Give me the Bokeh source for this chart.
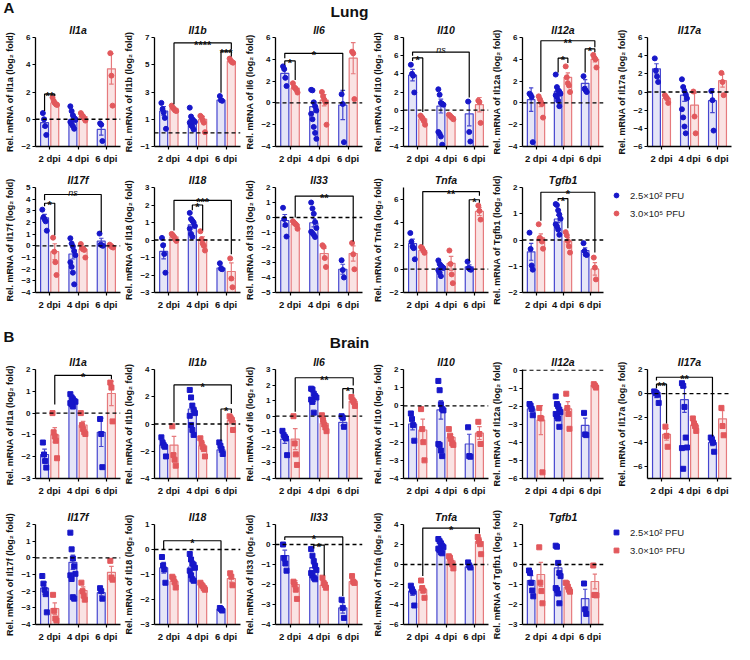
import numpy as np
from bokeh.plotting import figure
from bokeh.layouts import column, row
from bokeh.models import Range1d, FixedTicker, Span, Legend, LegendItem, Label
from bokeh.embed import file_html
from bokeh.resources import INLINE

FONT = "Liberation Sans"
DPI_LABELS = ["2 dpi", "4 dpi", "6 dpi"]
LEGEND_LABELS = ["2.5×10² PFU", "3.0×10⁵ PFU"]
SECTIONS = [("A", "Lung"), ("B", "Brain")]

# ---------------- LUNG ----------------
L_IL1A_BLUE = [[0.45, 0.0, -0.5, -1.15], [0.95, 0.6, 0.3, 0.1, -0.05, -0.2, -0.35, -0.5, -0.7, 0.0], [-0.3, -0.4, -1.6]]
L_IL1A_RED = [[1.6, 1.35, 1.2, 1.1, 1.05], [0.45, 0.3, 0.2, 0.05, -0.1], [4.85, 3.2, 1.0]]
L_IL1A_BARS = ([-0.25, 0.0, -0.75], [1.2, 0.2, 3.7])
L_IL1A_TICKS = [-2, 0, 2, 4, 6]

L_IL1B_BLUE = [[2.2, 1.75, 1.5, 1.1, 0.3], [1.85, 1.2, 1.0, 0.9, 0.8, 0.75, 0.55, 0.45, 0.25], [2.7, 2.4, 2.35]]
L_IL1B_RED = [[2.0, 1.85, 1.75, 1.65, 1.6], [1.25, 1.15, 0.95, 0.75, 0.05], [5.45, 5.3, 5.2, 5.15]]
L_IL1B_BARS = ([1.6, 0.95, 2.4], [1.8, 1.0, 5.25])
L_IL1B_TICKS = [-1, 1, 3, 5, 7]

L_IL6_BLUE = [[3.35, 3.1, 2.3, 1.55], [1.2, 1.15, 0.05, -0.3, -0.7, -1.0, -1.5, -2.2, -2.75, -3.3], [0.8, -0.1, -3.6]]
L_IL6_RED = [[1.8, 1.45, 1.35, 1.2, 0.95], [1.0, 0.6, 0.3, 0.05, -2.0], [4.7, 4.55, 0.35]]
L_IL6_BARS = ([2.7, -0.35, -0.2], [1.35, 0.25, 4.1])
L_IL6_TICKS = [-4, -2, 0, 2, 4, 6]

L_IL10_BLUE = [[5.0, 4.0, 3.8, 1.95], [2.3, 1.7, 0.8, 0.7, 0.6, -2.4, -2.6, -2.9, -3.8], [0.95, -2.4, -3.45]]
L_IL10_RED = [[-0.6, -0.75, -0.95, -1.2, -1.6], [-0.5, -0.6, -0.75, -0.85, -1.0], [1.05, 0.9, -1.4]]
L_IL10_BARS = ([3.85, 0.45, -0.4], [-0.95, -0.7, 0.6])
L_IL10_TICKS = [-4, -2, 0, 2, 4, 6, 8]

L_IL12A_BLUE = [[0.85, 0.75, 0.55, -3.6], [2.6, 1.45, 1.15, 1.05, 0.85, 0.7, 0.55, 0.2, -0.3], [2.45, 1.3, 1.15, 1.0]]
L_IL12A_RED = [[0.6, 0.35, 0.1, -0.1, -1.35], [3.35, 2.35, 1.8, 1.6, 1.0], [4.4, 4.15, 4.0, 3.25]]
L_IL12A_BARS = ([0.3, 1.05, 1.8], [0.0, 2.35, 4.0])
L_IL12A_TICKS = [-4, -2, 0, 2, 4, 6]

L_IL17A_BLUE = [[3.7, 2.35, 1.7, 1.1], [1.4, 0.55, 0.1, -0.25, -0.7, -1.9, -2.8, -3.8, -4.55], [0.1, -0.9, -4.25]]
L_IL17A_RED = [[-0.35, -0.55, -0.7, -1.2], [0.05, -2.7, -4.55], [2.1, 1.1, -0.35]]
L_IL17A_BARS = ([2.55, -0.35, -0.95], [-0.7, -1.45, 1.25])
L_IL17A_TICKS = [-6, -4, -2, 0, 2, 4, 6]

L_IL17F_BLUE = [[3.1, 2.45, 2.3, 2.1, 1.3], [0.65, 0.2, -0.05, -0.45, -0.8, -1.4, -1.8, -2.3, -3.3], [1.05, 0.1, 0.05, 0.0]]
L_IL17F_RED = [[0.7, -0.5, -1.4, -2.5], [0.15, -0.2, -0.25, -0.35, -1.0], [0.1, 0.0, -0.1, -0.15]]
L_IL17F_BARS = ([2.4, -0.7, 0.4], [-0.5, -0.3, -0.1])
L_IL17F_TICKS = [-4, -3, -2, -1, 0, 1, 2, 3, 4, 5]

L_IL18_BLUE = [[0.12, -0.3, -0.8, -1.87], [1.55, 1.2, 1.1, 1.0, 0.8, 0.65, 0.35, 0.18], [-1.33, -1.64, -1.67]]
L_IL18_RED = [[0.35, 0.27, 0.18, 0.05, -0.05], [0.5, 0.05, -0.2, -0.33, -0.6], [-1.05, -2.2, -2.7]]
L_IL18_BARS = ([-0.65, 0.87, -1.6], [0.18, 0.0, -1.8])
L_IL18_TICKS = [-3, -2, -1, 0, 1, 2, 3]

L_IL33_BLUE = [[0.65, -0.1, -0.5, -1.27], [1.0, 0.6, 0.25, -0.3, -0.7, -0.95, -1.05, -1.15, -1.3], [-2.85, -3.5, -4.0]]
L_IL33_RED = [[-0.25, -0.35, -0.42, -0.5, -0.75], [-1.85, -1.95, -2.7, -3.3], [-1.7, -2.45, -3.45]]
L_IL33_BARS = ([-0.2, -0.35, -3.45], [-0.45, -2.4, -2.4])
L_IL33_TICKS = [-5, -4, -3, -2, -1, 0, 1, 2]

L_TNFA_BLUE = [[3.1, 2.35, 1.95, 1.8, 0.85], [0.75, 0.45, 0.3, 0.2, 0.1, -0.1, -0.3, -0.6], [0.65, 0.1, 0.0, -0.05]]
L_TNFA_RED = [[1.9, 1.8, 1.6, 1.4], [1.6, 0.45, -0.45, -1.2], [5.45, 5.0, 4.25]]
L_TNFA_BARS = ([2.2, 0.1, 0.2], [1.6, 0.5, 4.95])
L_TNFA_TICKS = [-2, 0, 2, 4, 6]

L_TGFB1_BLUE = [[0.28, -0.34, -0.97, -1.13], [1.37, 1.33, 1.13, 0.97, 0.81, 0.6, 0.52, 0.4, 0.2], [-0.12, -0.42, -0.55, -0.57]]
L_TGFB1_RED = [[0.6, 0.08, 0.04, -0.06, -0.33], [0.3, 0.18, -0.04, -0.24, -0.48], [-0.67, -1.05, -1.5]]
L_TGFB1_BARS = ([-0.45, 0.8, -0.4], [0.08, -0.04, -1.1])
L_TGFB1_TICKS = [-2, -1, 0, 1, 2]

# ---------------- BRAIN ----------------
B_IL1A_BLUE = [[-1.35, -1.9, -2.2, -2.5], [0.87, 0.72, 0.64, 0.56, 0.52, 0.46, 0.4, 0.3], [-0.27, -0.96, -2.48]]
B_IL1A_RED = [[0.0, -0.88, -1.07, -1.27, -2.07], [0.0, -0.55, -0.73, -0.88, -0.96], [1.4, 1.17, -0.38]]
B_IL1A_BARS = ([-1.9, 0.5, -0.88], [-1.0, -0.55, 0.9])
B_IL1A_TICKS = [-3, -2, -1, 0, 1, 2]

B_IL1B_BLUE = [[-0.98, -1.35, -1.55, -1.67, -2.38], [2.5, 1.95, 1.35, 1.05, 0.8, 0.6, -0.07, -0.44, -0.8], [-1.35, -1.6, -1.84, -2.2]]
B_IL1B_RED = [[-0.17, -2.28, -2.62, -3.06], [-1.05, -1.4, -1.67, -1.84, -2.38], [0.56, 0.42, 0.3, -0.44]]
B_IL1B_BARS = ([-1.55, 1.1, -1.9], [-1.55, -1.6, 0.25])
B_IL1B_TICKS = [-4, -2, 0, 2, 4]

B_IL6_BLUE = [[-0.94, -1.2, -1.32, -1.43, -2.5], [1.77, 1.72, 1.45, 1.3, 1.2, 1.07, 0.92, 0.23], [0.0, -0.1, -0.68]]
B_IL6_RED = [[0.0, -1.75, -2.45, -3.13], [0.06, -0.25, -0.53, -0.72, -0.96], [1.23, 1.02, 0.92, 0.66]]
B_IL6_BARS = ([-1.47, 1.13, -0.4], [-1.47, -0.47, 0.96])
B_IL6_TICKS = [-4, -3, -2, -1, 0, 1, 2, 3]

B_IL10_BLUE = [[-0.42, -0.73, -1.06, -1.92], [1.37, 0.86, 0.09, -0.18, -0.25, -2.1, -2.15, -2.46, -2.77], [-1.18, -2.77, -2.8]]
B_IL10_RED = [[-0.18, -1.28, -2.0, -3.0], [-1.28, -1.64, -1.82, -2.06, -2.15], [-0.88, -1.55, -2.1]]
B_IL10_BARS = ([-1.0, -0.22, -2.1], [-1.33, -1.73, -1.5])
B_IL10_TICKS = [-4, -3, -2, -1, 0, 1, 2]

B_IL12A_BLUE = [[-1.88, -1.97, -2.15, -2.5], [-1.46, -1.88, -2.0, -2.19, -2.33, -2.43, -2.55, -2.68, -3.14], [-2.37, -3.56, -3.6]]
B_IL12A_RED = [[-2.1, -2.65, -2.68, -5.66], [-1.31, -2.1, -2.43, -3.25], [-0.78, -0.86, -0.97]]
B_IL12A_BARS = ([-2.15, -2.37, -3.06], [-2.77, -2.15, -0.85])
B_IL12A_TICKS = [-6, -5, -4, -3, -2, -1, 0]

B_IL17A_BLUE = [[0.19, 0.11, 0.05, -0.08, -0.76], [0.87, 0.65, -1.09, -3.62, -4.44, -4.49, -6.2], [-3.62, -3.76, -4.03, -4.79]]
B_IL17A_RED = [[-2.72, -3.48, -4.38], [-2.04, -2.45, -2.67, -3.07], [-1.17, -2.67, -3.43]]
B_IL17A_BARS = ([-0.15, -0.49, -4.03], [-3.35, -2.6, -2.07])
B_IL17A_TICKS = [-6, -4, -2, 0, 2]

B_IL17F_BLUE = [[-1.09, -1.55, -1.91, -2.18, -3.27], [1.51, 0.51, -0.04, -0.51, -0.96, -1.05, -1.27, -2.36, -2.45], [-1.82, -2.0, -2.45]]
B_IL17F_RED = [[-2.22, -3.18, -3.64, -3.76], [-1.49, -2.0, -2.27, -2.51], [-0.18, -1.18, -1.31]]
B_IL17F_BARS = ([-1.82, -0.27, -2.09], [-3.05, -1.96, -0.87])
B_IL17F_TICKS = [-4, -3, -2, -1, 0, 1, 2]

B_IL18_BLUE = [[-0.3, -0.64, -0.8, -1.33], [-0.18, -0.4, -0.56, -0.61, -0.73, -0.85, -1.03, -1.19, -1.25], [-2.34, -2.38, -2.44]]
B_IL18_RED = [[-1.09, -1.16, -1.31, -1.52], [-1.33, -1.41, -1.47, -1.55, -1.61], [-0.95, -1.09, -1.43]]
B_IL18_BARS = ([-0.73, -0.7, -2.38], [-1.28, -1.45, -1.16])
B_IL18_TICKS = [-3, -2, -1, 0, 1]

B_IL33_BLUE = [[0.0, -0.68, -0.95, -1.31], [-0.23, -0.56, -0.83, -1.06, -1.28, -1.43, -1.55, -1.66, -1.74], [-2.76, -3.17, -3.67]]
B_IL33_RED = [[-1.86, -2.0, -2.26, -2.72], [-1.66, -1.92, -2.0, -2.16], [-1.58, -1.86, -1.92]]
B_IL33_BARS = ([-0.56, -1.16, -3.17], [-2.0, -2.04, -1.86])
B_IL33_TICKS = [-4, -3, -2, -1, 0, 1]

B_TNFA_BLUE = [[-2.12, -2.52, -2.73, -4.1], [2.55, 2.33, 2.12, 1.88, 1.73, 1.58, 1.42, 1.21, 1.12], [0.21, -0.09, -0.3]]
B_TNFA_RED = [[-1.6, -2.36, -2.6, -3.33], [0.82, 0.67, 0.21, 0.0, -0.39], [2.75, 2.33, 2.03, 1.03]]
B_TNFA_BARS = ([-2.67, 1.82, -0.24], [-2.52, 0.36, 2.3])
B_TNFA_TICKS = [-6, -4, -2, 0, 2, 4]

B_TGFB1_BLUE = [[-0.3, -0.42, -0.91, -1.3, -1.59], [0.94, 0.89, 0.08, -0.42, -0.58, -1.18, -1.26, -1.45, -1.94], [-0.95, -2.24, -2.47]]
B_TGFB1_RED = [[0.86, -0.91, -1.33, -1.94], [-0.91, -0.95, -1.11, -1.26, -1.36], [-0.05, -1.52, -1.53, -1.54]]
B_TGFB1_BARS = ([-0.8, -0.17, -1.71], [-0.5, -1.15, -0.85])
B_TGFB1_TICKS = [-3, -2, -1, 0, 1, 2]

# significance brackets: (group1, side1, group2, side2, y_top, y_leg1, y_leg2, label); side -1 = low dose, +1 = high dose
SIG = {
    ("Lung", "Il1a"): [(0, -1, 0, 1, 1.85, 0.6, 1.7, "**")],
    ("Lung", "Il1b"): [(2, -1, 2, 1, 6.0, 2.95, 5.6, "***"), (0, 1, 2, 1, 6.6, 2.1, 6.1, "****")],
    ("Lung", "Il6"): [(0, -1, 0, 1, 3.85, 3.5, 2.1, "*"), (0, -1, 2, -1, 4.55, 4.1, 1.05, "*")],
    ("Lung", "Il10"): [(0, -1, 0, 1, 5.75, 5.4, -0.2, "*"), (0, -1, 2, -1, 6.4, 6.0, 1.4, "ns")],
    ("Lung", "Il12a"): [(1, -1, 1, 1, 4.1, 2.8, 3.65, "*"), (2, -1, 2, 1, 4.95, 2.8, 4.65, "*"), (0, 1, 2, 1, 5.7, 1.0, 5.1, "**")],
    ("Lung", "Il17f"): [(0, -1, 0, 1, 3.65, 3.4, 0.9, "*"), (0, -1, 2, -1, 4.4, 3.9, 1.17, "ns")],
    ("Lung", "Il18"): [(1, -1, 1, 1, 2.0, 1.7, 0.55, "*"), (0, 1, 2, 1, 2.27, 0.55, -0.82, "***")],
    ("Lung", "Il33"): [(0, 1, 2, 1, 1.43, 0.0, -1.6, "**")],
    ("Lung", "Tnfa"): [(2, -1, 2, 1, 5.95, 0.7, 5.7, "*"), (0, 1, 2, 1, 6.65, 2.1, 6.3, "**")],
    ("Lung", "Tgfb1"): [(1, -1, 1, 1, 1.58, 1.5, 0.45, "*"), (0, 1, 2, 1, 1.82, 0.73, -0.48, "*")],
    ("Brain", "Il1a"): [(0, 1, 2, 1, 1.73, 0.4, 1.55, "*")],
    ("Brain", "Il1b"): [(2, -1, 2, 1, 1.1, -1.23, 0.8, "*"), (0, 1, 2, 1, 2.87, 0.12, 1.47, "*")],
    ("Brain", "Il6"): [(2, -1, 2, 1, 1.77, 0.5, 1.45, "*"), (0, 1, 2, 1, 2.47, 0.28, 1.98, "**")],
    ("Brain", "Il17a"): [(0, -1, 0, 1, 0.79, 0.46, -2.45, "**"), (0, -1, 2, -1, 1.36, 1.09, -3.54, "**")],
    ("Brain", "Il18"): [(0, -1, 2, -1, 0.35, 0.02, -2.16, "*")],
    ("Brain", "Il33"): [(0, -1, 2, -1, 0.38, 0.23, -2.57, "*"), (1, -1, 1, 1, -0.03, -0.2, -1.55, "*")],
    ("Brain", "Tnfa"): [(0, 1, 2, 1, 3.64, -1.15, 3.09, "*")],
}

LUNG_PANELS = [
    ("Il1a", "Rel. mRNA of Il1a (log₂ fold)", L_IL1A_BLUE, L_IL1A_RED, L_IL1A_BARS, L_IL1A_TICKS, (-2, 6)),
    ("Il1b", "Rel. mRNA of Il1b (log₂ fold)", L_IL1B_BLUE, L_IL1B_RED, L_IL1B_BARS, L_IL1B_TICKS, (-1, 7)),
    ("Il6", "Rel. mRNA of Il6 (log₂ fold)", L_IL6_BLUE, L_IL6_RED, L_IL6_BARS, L_IL6_TICKS, (-4, 6)),
    ("Il10", "Rel. mRNA of Il10 (log₂ fold)", L_IL10_BLUE, L_IL10_RED, L_IL10_BARS, L_IL10_TICKS, (-4, 8)),
    ("Il12a", "Rel. mRNA of Il12a (log₂ fold)", L_IL12A_BLUE, L_IL12A_RED, L_IL12A_BARS, L_IL12A_TICKS, (-4, 6)),
    ("Il17a", "Rel. mRNA of Il17a (log₂ fold)", L_IL17A_BLUE, L_IL17A_RED, L_IL17A_BARS, L_IL17A_TICKS, (-6, 6)),
    ("Il17f", "Rel. mRNA of Il17f (log₂ fold)", L_IL17F_BLUE, L_IL17F_RED, L_IL17F_BARS, L_IL17F_TICKS, (-4, 5)),
    ("Il18", "Rel. mRNA of Il18 (log₂ fold)", L_IL18_BLUE, L_IL18_RED, L_IL18_BARS, L_IL18_TICKS, (-3, 3)),
    ("Il33", "Rel. mRNA of Il33 (log₂ fold)", L_IL33_BLUE, L_IL33_RED, L_IL33_BARS, L_IL33_TICKS, (-5, 2)),
    ("Tnfa", "Rel. mRNA of Tnfa (log₂ fold)", L_TNFA_BLUE, L_TNFA_RED, L_TNFA_BARS, L_TNFA_TICKS, (-2, 7)),
    ("Tgfb1", "Rel. mRNA of Tgfb1 (log₂ fold)", L_TGFB1_BLUE, L_TGFB1_RED, L_TGFB1_BARS, L_TGFB1_TICKS, (-2, 2)),
]
BRAIN_PANELS = [
    ("Il1a", "Rel. mRNA of Il1a  (log₂ fold)", B_IL1A_BLUE, B_IL1A_RED, B_IL1A_BARS, B_IL1A_TICKS, (-3, 2)),
    ("Il1b", "Rel. mRNA of Il1b (log₂ fold)", B_IL1B_BLUE, B_IL1B_RED, B_IL1B_BARS, B_IL1B_TICKS, (-4, 4)),
    ("Il6", "Rel. mRNA of Il6 (log₂ fold)", B_IL6_BLUE, B_IL6_RED, B_IL6_BARS, B_IL6_TICKS, (-4, 3)),
    ("Il10", "Rel. mRNA of Il10 (log₂ fold)", B_IL10_BLUE, B_IL10_RED, B_IL10_BARS, B_IL10_TICKS, (-4, 2)),
    ("Il12a", "Rel. mRNA of Il12a (log₂ fold)", B_IL12A_BLUE, B_IL12A_RED, B_IL12A_BARS, B_IL12A_TICKS, (-6, 0.03)),
    ("Il17a", "Rel. mRNA of Il17a (log₂ fold)", B_IL17A_BLUE, B_IL17A_RED, B_IL17A_BARS, B_IL17A_TICKS, (-7, 2)),
    ("Il17f", "Rel. mRNA of Il17f (log₂ fold)", B_IL17F_BLUE, B_IL17F_RED, B_IL17F_BARS, B_IL17F_TICKS, (-4, 2)),
    ("Il18", "Rel. mRNA of Il18 (log₂ fold)", B_IL18_BLUE, B_IL18_RED, B_IL18_BARS, B_IL18_TICKS, (-3, 1)),
    ("Il33", "Rel. mRNA of Il33 (log₂ fold)", B_IL33_BLUE, B_IL33_RED, B_IL33_BARS, B_IL33_TICKS, (-4, 1)),
    ("Tnfa", "Rel. mRNA of Tnfa (log₂ fold)", B_TNFA_BLUE, B_TNFA_RED, B_TNFA_BARS, B_TNFA_TICKS, (-6, 4)),
    ("Tgfb1", "Rel. mRNA of Tgfb1 (log₂ fold)", B_TGFB1_BLUE, B_TGFB1_RED, B_TGFB1_BARS, B_TGFB1_TICKS, (-3, 2)),
]

# ---------------- styling / layout ----------------
BLUE_PT, RED_PT = "#1717c9", "#e2585c"
BLUE_LINE, RED_LINE = "#4646cf", "#e67a7d"
BLUE_FILL, RED_FILL = "#e5e5f7", "#fae3e3"
COL_W = [121, 120, 122, 126, 115, 128]
COL_L = [35, 33, 34, 40, 30, 43]
PANEL_H = 146
BORDER_TOP, BORDER_BOTTOM = 17, 19
OFF = 0.18
BAR_W = 0.28


def jitter(n):
    if n <= 5:
        return [(i - (n - 1) / 2.0) * 0.04 for i in range(n)]
    return [((i % 5) - 2) * 0.045 for i in range(n)]


def point_xy(pts, side):
    px, py = [], []
    for g, vals in enumerate(pts):
        x = g + 1 + side * OFF
        for dx, v in zip(jitter(len(vals)), vals):
            px.append(x + dx)
            py.append(v)
    return px, py


def make_panel(section, spec, col, marker):
    gene, ylabel, blue, red, bars, ticks, ylim = spec
    p = figure(width=COL_W[col], height=PANEL_H, x_range=Range1d(0.5, 3.5), y_range=Range1d(ylim[0], ylim[1]),
               title=gene, output_backend="svg", toolbar_location=None,
               min_border_left=COL_L[col], min_border_right=1,
               min_border_top=BORDER_TOP, min_border_bottom=BORDER_BOTTOM)
    p.outline_line_color = None
    p.grid.visible = False
    t = p.title
    t.text_font = FONT
    t.text_font_style = "bold italic"
    t.text_font_size = "10.5px"
    t.align = "center"
    t.standoff = 3
    t.text_color = "#111111"

    yax = p.yaxis[0]
    yax.ticker = FixedTicker(ticks=ticks)
    yax.axis_label = ylabel
    yax.axis_label_text_font = FONT
    yax.axis_label_text_font_style = "bold"
    yax.axis_label_text_font_size = "9px"
    yax.axis_label_standoff = 3
    yax.major_label_text_font = FONT
    yax.major_label_text_font_style = "bold"
    yax.major_label_text_font_size = "8px"
    yax.major_label_standoff = 2
    xax = p.xaxis[0]
    xax.ticker = FixedTicker(ticks=[1, 2, 3])
    xax.major_label_overrides = {1: DPI_LABELS[0], 2: DPI_LABELS[1], 3: DPI_LABELS[2]}
    xax.major_label_text_font = FONT
    xax.major_label_text_font_style = "bold"
    xax.major_label_text_font_size = "9.5px"
    xax.major_label_standoff = 3
    for ax in (xax, yax):
        ax.axis_line_width = 1.3
        ax.axis_line_color = "black"
        ax.major_tick_line_width = 1.2
        ax.major_tick_out = 3
        ax.major_tick_in = 0
        ax.minor_tick_out = 0
        ax.minor_tick_in = 0
        ax.major_label_text_color = "#111111"
        ax.axis_label_text_color = "#111111"

    for pts, means, side, fc, lc, pc in ((blue, bars[0], -1, BLUE_FILL, BLUE_LINE, BLUE_PT),
                                        (red, bars[1], 1, RED_FILL, RED_LINE, RED_PT)):
        xs = [g + 1 + side * OFF for g in range(3)]
        p.vbar(x=xs, top=means, bottom=ylim[0], width=BAR_W, fill_color=fc, line_color=lc, line_width=1.2)
        sems = [float(np.std(v, ddof=1) / np.sqrt(len(v))) for v in pts]
        lo = [m - s for m, s in zip(means, sems)]
        hi = [m + s for m, s in zip(means, sems)]
        p.segment(x0=xs, y0=lo, x1=xs, y1=hi, line_color=lc, line_width=1.2)
        cx0 = [x - 0.08 for x in xs] * 2
        cx1 = [x + 0.08 for x in xs] * 2
        p.segment(x0=cx0, y0=lo + hi, x1=cx1, y1=lo + hi, line_color=lc, line_width=1.2)
        px, py = point_xy(pts, side)
        p.scatter(x=px, y=py, marker=marker, size=5, fill_color=pc, line_color=pc)

    if ylim[0] <= 0 <= ylim[1]:
        p.add_layout(Span(location=0, dimension="width", line_color="black", line_dash="4 3", line_width=1.3))

    for (g1, s1, g2, s2, ytop, yl1, yl2, lab) in SIG.get((section, gene), []):
        x1 = g1 + 1 + s1 * OFF
        x2 = g2 + 1 + s2 * OFF
        p.multi_line(xs=[[x1, x1, x2, x2]], ys=[[yl1, ytop, ytop, yl2]], line_color="black", line_width=1.2)
        italic = lab == "ns"
        p.add_layout(Label(x=(x1 + x2) / 2, y=ytop, text=lab, text_font=FONT,
                           text_font_style="italic" if italic else "bold",
                           text_font_size="9px" if italic else "11px", text_align="center",
                           text_baseline="alphabetic", y_offset=2 if italic else -2, text_color="#111111"))
    return p


def make_legend(spec, marker, top_px):
    # legend-only panel; its renderers hold the Tgfb1 points of the section but lie outside this frame
    gene, ylabel, blue, red, bars, ticks, ylim = spec
    p = figure(width=COL_W[5], height=PANEL_H, x_range=Range1d(50, 51), y_range=Range1d(50, 51),
               output_backend="svg", toolbar_location=None,
               min_border_left=2, min_border_top=top_px, min_border_right=0, min_border_bottom=0,
               x_axis_location=None, y_axis_location=None)
    p.grid.visible = False
    p.outline_line_color = None
    bx, by = point_xy(blue, -1)
    rx, ry = point_xy(red, 1)
    rb = p.scatter(x=bx, y=by, marker=marker, size=5, fill_color=BLUE_PT, line_color=BLUE_PT)
    rr = p.scatter(x=rx, y=ry, marker=marker, size=5, fill_color=RED_PT, line_color=RED_PT)
    legend = Legend(items=[LegendItem(label=LEGEND_LABELS[0], renderers=[rb]),
                           LegendItem(label=LEGEND_LABELS[1], renderers=[rr])],
                    location="top_left")
    legend.border_line_color = None
    legend.background_fill_alpha = 0
    legend.label_text_font = FONT
    legend.label_text_font_size = "9.5px"
    legend.label_text_color = "#222222"
    legend.glyph_width = 20
    legend.glyph_height = 12
    legend.label_height = 16
    legend.label_standoff = 4
    legend.spacing = 2
    legend.padding = 0
    legend.margin = 0
    p.add_layout(legend)
    return p


def make_header(h, letter, title, ly, ty):
    p = figure(width=732, height=h, x_range=Range1d(0, 732), y_range=Range1d(0, h),
               output_backend="svg", toolbar_location=None, min_border=0,
               x_axis_location=None, y_axis_location=None)
    p.grid.visible = False
    p.outline_line_color = None
    p.add_layout(Label(x=3, y=ly, text=letter, text_font=FONT, text_font_style="bold",
                       text_font_size="15px", text_align="left", text_baseline="middle", text_color="#111111"))
    p.add_layout(Label(x=349, y=ty, text=title, text_font=FONT, text_font_style="bold",
                       text_font_size="15.5px", text_align="center", text_baseline="middle", text_color="#111111"))
    return p


items = []
for (letter, section), panels, marker, hh, ly, ty, legend_top in (
        (SECTIONS[0], LUNG_PANELS, "circle", 20, 13.5, 9, 21),
        (SECTIONS[1], BRAIN_PANELS, "square", 40, 16, 10, 26)):
    items.append(make_header(hh, letter, section, ly, ty))
    r1 = [make_panel(section, panels[i], i, marker) for i in range(6)]
    r2 = [make_panel(section, panels[6 + i], i, marker) for i in range(5)]
    r2.append(make_legend(panels[10], marker, legend_top))
    items.append(row(*r1))
    items.append(row(*r2))

layout = column(*items)
open("out.html", "w").write(file_html(layout, INLINE))
